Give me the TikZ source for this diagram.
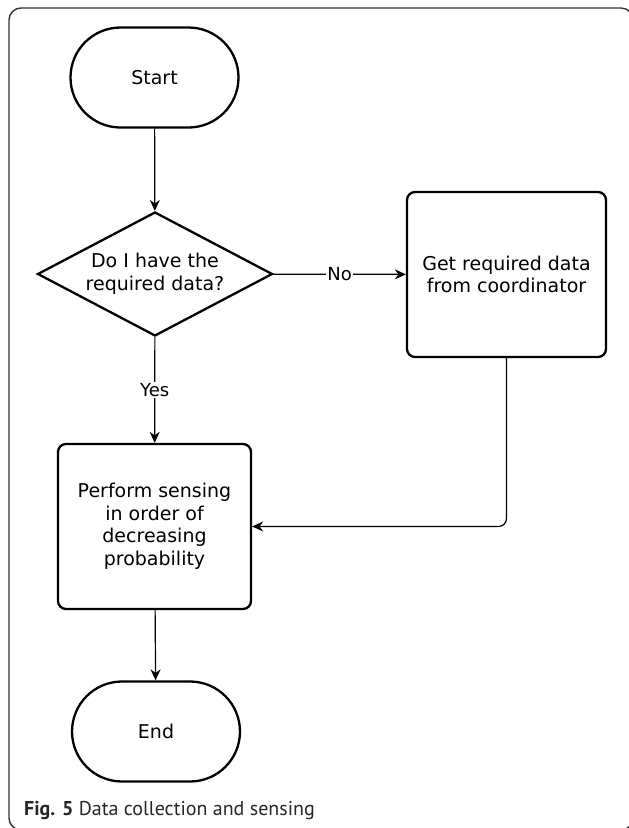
\documentclass[tikz,border=0pt]{standalone}
\usepackage{fontspec}
\setmainfont{DejaVu Sans}
\newfontfamily\capfont{PT Sans}
\usetikzlibrary{shapes.geometric,arrows.meta}
\begin{document}
\begin{tikzpicture}[x=1pt,y=-1pt,
  nodefont/.style={font=\fontsize{19}{22.5}\selectfont},
  box/.style={draw,line width=2.3pt,rounded corners=8pt,align=center,inner sep=0pt,nodefont},
  term/.style={draw,line width=2.3pt,rounded corners=50pt,minimum width=168pt,minimum height=100pt,inner sep=0pt,nodefont},
  decision/.style={draw,diamond,line width=2.3pt,aspect=1.9,minimum width=235pt,minimum height=124pt,inner sep=0pt,align=center,nodefont},
  conn/.style={line width=1.2pt,-{Stealth[length=11pt,width=10pt,inset=3.5pt]}},
  lbl/.style={fill=white,inner sep=1.5pt,font=\fontsize{18}{21}\selectfont},
  frame/.style={draw=black!80,line width=1.4pt,rounded corners=12pt}]
\useasboundingbox (0,0) rectangle (629,828);
\begin{scope}
  \clip (0,0) rectangle (629,828);
  \path[frame] (9,8) rectangle (633,830);
\end{scope}
\node[term] (start) at (154.5,77.5) {Start};
\node[decision] (dec) at (155,274) {Do I have the\\required data?};
\node[box,minimum width=199pt,minimum height=165pt] (get) at (506.5,274.5) {Get required data\\from coordinator};
\node[box,minimum width=193pt,minimum height=165pt] (perf) at (154.5,526.5) {Perform sensing\\in order of\\decreasing\\probability};
\node[term] (end) at (156,731.5) {End};
\node[anchor=west,inner sep=0pt,text=black!85,font=\capfont\fontsize{20}{23}\selectfont] (cap) at (24,810) {\textbf{Fig. 5} Data collection and sensing};
\draw[conn] (start) -- (dec);
\draw[conn] (dec) -- node[lbl] {No} (get);
\draw[conn] (dec) -- node[lbl] {Yes} (perf);
\draw[conn,rounded corners=8pt] (get.south) |- (perf.east);
\draw[conn] (perf) -- (end);
\end{tikzpicture}
\end{document}
